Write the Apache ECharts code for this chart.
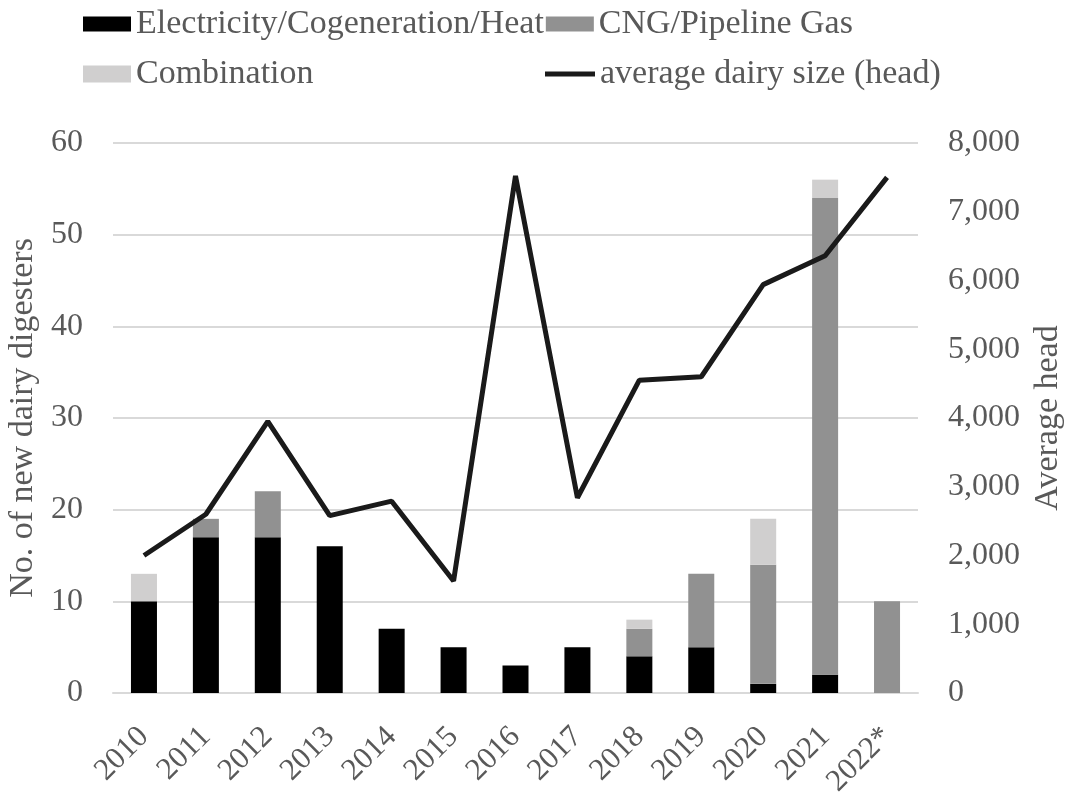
<!DOCTYPE html>
<html><head><meta charset="utf-8">
<script src="https://cdn.jsdelivr.net/npm/echarts@6/dist/echarts.min.js"></script>
<style>html,body{margin:0;padding:0;background:#fff}#c{width:1068px;height:793px}</style>
</head><body><div id="c"></div>
<script>
const categories = ['2010','2011','2012','2013','2014','2015','2016','2017','2018','2019','2020','2021','2022*'];
const electricity = [10,17,17,16,7,5,3,5,4,5,1,2,0];
const cng = [0,2,5,0,0,0,0,0,3,8,13,52,10];
const combination = [3,0,0,0,0,0,0,0,1,0,5,2,0];
const avgHead = [2000,2600,3950,2580,2790,1630,7520,2840,4550,4600,5940,6360,7500];
const leftTicks = [0,60,10];
const rightTicks = [0,8000,1000];

const FONT = 'Liberation Serif';
const GREY = '#595959';
const chart = echarts.init(document.getElementById('c'), null, {renderer:'canvas'});
const legendText = {fontFamily: FONT, fontSize: 34, color: GREY};
chart.setOption({
  animation: false,
  textStyle: {fontFamily: FONT},
  grid: {left: 113, right: 150, top: 143, bottom: 100, containLabel: false, outerBoundsMode: 'none'},
  legend: [
    {left: 83, top: 7, padding: 0, icon: 'rect', itemWidth: 48, itemHeight: 15, itemGap: 2, textStyle: legendText,
     data: ['Electricity/Cogeneration/Heat','CNG/Pipeline Gas']},
    {left: 83, top: 57, padding: 0, icon: 'rect', itemWidth: 48, itemHeight: 17, textStyle: legendText,
     data: ['Combination']},
    {left: 545, top: 57, padding: 0, itemWidth: 50, itemHeight: 17, textStyle: legendText,
     data: [{name:'average dairy size (head)', icon:'path://M0,0H50V5H0Z'}]}
  ],
  xAxis: {
    type: 'category', data: categories,
    axisLine: {lineStyle: {color: '#d9d9d9', width: 2}},
    axisTick: {show: false},
    axisLabel: {rotate: 45, fontFamily: FONT, fontSize: 31, color: GREY, margin: 39}
  },
  yAxis: [
    {type: 'value', min: leftTicks[0], max: leftTicks[1], interval: leftTicks[2],
     name: 'No. of new dairy digesters', nameLocation: 'middle', nameGap: 67, nameRotate: 90,
     nameTextStyle: {fontFamily: FONT, fontSize: 34, color: GREY},
     axisLine: {show: false}, axisTick: {show: false},
     axisLabel: {fontFamily: FONT, fontSize: 32, color: GREY, margin: 30},
     splitLine: {lineStyle: {color: '#d9d9d9', width: 2}}},
    {type: 'value', min: rightTicks[0], max: rightTicks[1], interval: rightTicks[2],
     name: 'Average head', nameLocation: 'middle', nameGap: 118, nameRotate: 90,
     nameTextStyle: {fontFamily: FONT, fontSize: 34, color: GREY, verticalAlign: 'bottom'},
     axisLine: {show: false}, axisTick: {show: false},
     axisLabel: {fontFamily: FONT, fontSize: 32, color: GREY, margin: 30,
       formatter: v => v.toLocaleString('en-US')},
     splitLine: {show: false}}
  ],
  series: [
    {name: 'Electricity/Cogeneration/Heat', type: 'bar', stack: 's', data: electricity,
     barWidth: '42%', itemStyle: {color: '#000000'}},
    {name: 'CNG/Pipeline Gas', type: 'bar', stack: 's', data: cng,
     itemStyle: {color: '#919191'}},
    {name: 'Combination', type: 'bar', stack: 's', data: combination,
     itemStyle: {color: '#d0cfcf'}},
    {name: 'average dairy size (head)', type: 'line', yAxisIndex: 1, data: avgHead,
     symbol: 'none', lineStyle: {color: '#1a1a1a', width: 5}, itemStyle: {color: '#1a1a1a'}}
  ]
});
</script></body></html>
